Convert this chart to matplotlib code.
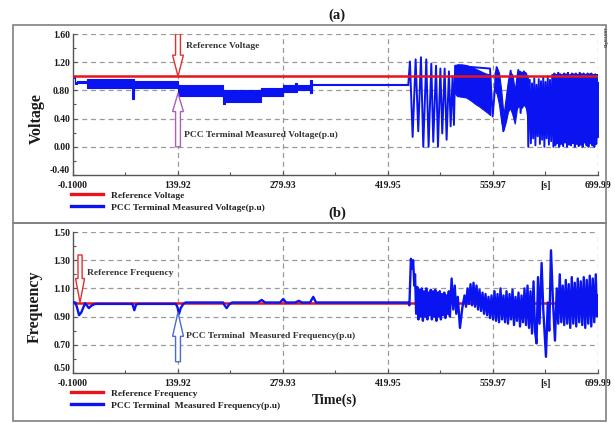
import matplotlib
matplotlib.use("Agg")
import matplotlib.pyplot as plt
import matplotlib.patches as mpatches
from matplotlib.lines import Line2D
import numpy as np

# ---------------- data ----------------
x_ticks = [-0.1, 139.92, 279.93, 419.95, 559.97, 629.98, 699.99]
x_ticklabels = ["-0.1000", "139.92", "279.93", "419.95", "559.97", "[s]", "699.99"]
x_grid = [139.92, 279.93, 419.95, 559.97, 699.99]
x_minor = [69.9, 209.9, 349.9, 489.9]

v_ticks = [-0.40, 0.00, 0.40, 0.80, 1.20, 1.60]
f_ticks = [0.50, 0.70, 0.90, 1.10, 1.30, 1.50]

ref_voltage = 1.0
ref_frequency = 1.0

# voltage: fast-oscillation envelope before the disturbance (step segments)
vb_t = [-0.1, 3, 5, 19, 79, 81, 140, 200, 202, 250, 280, 296, 298, 316, 319, 447]
vb_hi = [1.00, 0.92, 0.93, 0.96, 0.96, 0.94, 0.88, 0.80, 0.80, 0.84, 0.88, 0.90, 0.87, 0.95, 0.886, 0.886]
vb_lo = [0.98, 0.89, 0.90, 0.83, 0.68, 0.84, 0.72, 0.61, 0.64, 0.72, 0.78, 0.78, 0.80, 0.76, 0.872, 0.872]

# voltage: envelope of the thick band segments after the disturbance
vb2_t = [509, 512, 518, 524, 530, 536, 542, 548, 553, 556]
vb2_hi = [1.15, 1.17, 1.17, 1.16, 1.14, 1.11, 1.08, 1.05, 1.03, 1.03]
vb2_lo = [0.76, 0.72, 0.71, 0.70, 0.66, 0.61, 0.57, 0.52, 0.48, 0.45]

vb3_t = [562, 565, 568, 571, 574, 577, 580, 583, 586, 589, 592, 595, 598, 601, 604, 606]
vb3_hi = [1.05, 1.13, 1.05, 0.80, 0.45, 0.70, 0.95, 1.06, 1.02, 0.80, 1.06, 1.08, 1.06, 1.07, 1.05, 0.95]
vb3_lo = [0.80, 0.75, 0.60, 0.35, 0.24, 0.35, 0.50, 0.55, 0.45, 0.33, 0.55, 0.58, 0.55, 0.60, 0.55, 0.40]

vb4_t = [640, 650, 660, 670, 680, 690, 699.99]
vb4_hi = [0.90, 0.92, 0.93, 0.92, 0.94, 0.93, 0.92]
vb4_lo = [0.15, 0.12, 0.14, 0.12, 0.13, 0.12, 0.14]

# voltage: individual swings (peaks / troughs)
vz_t = [447, 449.2, 452.8, 456.8, 460.3, 463.9, 467.0, 471.0, 474.1, 477.7, 480.3,
        484.0, 486.6, 489.8, 492.3, 495.5, 498.1, 501.2, 503.5, 506.1, 507.9, 509.5,
        556.0, 559.5, 564.8, 568.0, 573.7, 578.0, 583.5, 587.0, 589.2, 593.7, 596.8,
        601.2, 604.0, 606.0,
        607.0, 609.0, 610.5, 612.0, 613.5, 615.0, 616.5, 618.0, 619.5, 621.0, 622.5,
        624.0, 625.5, 627.0, 628.5, 630.0, 631.5, 633.0, 634.5, 636.0, 637.5, 639.0,
        640.5, 641.8, 643.1, 644.4, 645.7, 647.0, 648.3, 649.6, 650.9, 652.2, 653.5,
        654.8, 656.1, 657.4, 658.7, 660.0, 661.3, 662.6, 663.9, 665.2, 666.5, 667.8,
        669.1, 670.4, 671.7, 673.0, 674.3, 675.6, 676.9, 678.2, 679.5, 680.8, 682.1,
        683.4, 684.7, 686.0, 687.3, 688.6, 689.9, 691.2, 692.5, 693.8, 695.1, 696.4,
        697.7, 699.0, 699.99]
vz_v = [0.88, 1.21, 0.14, 1.24, 0.22, 1.27, 0.00, 1.24, 0.00, 1.18, 0.07,
        1.15, 0.00, 1.11, 0.19, 1.11, 0.10, 1.07, 0.29, 1.00, 0.31, 1.15,
        1.11, 0.43, 1.13, 0.85, 0.22, 0.60, 1.08, 0.62, 0.40, 1.09, 0.48,
        1.07, 0.62, 1.00,
        0.00, 0.95, 0.05, 0.90, 0.12, 0.97, 0.02, 0.88, 0.15, 0.96, 0.04,
        0.93, 0.10, 0.98, 0.00, 0.92, 0.12, 1.00, 0.03, 0.95, 0.08, 1.02,
        0.00, 1.04, 0.02, 1.02, 0.05, 1.05, 0.00, 1.03, 0.04, 1.02, 0.01,
        1.04, 0.06, 1.03, 0.00, 1.05, 0.03, 1.02, 0.02, 1.04, 0.05, 1.03,
        0.00, 1.04, 0.04, 1.02, 0.01, 1.05, 0.03, 1.03, 0.00, 1.04, 0.06,
        1.02, 0.02, 1.04, 0.00, 1.03, 0.05, 1.04, 0.02, 1.02, 0.00, 1.03,
        0.04, 1.02, 0.30]

# frequency trace
f_t = [-0.1, 3, 5, 8, 11, 16, 19, 21, 24, 27, 30, 79, 81.7, 84, 87,
       137, 139, 141.3, 143.5, 147, 150, 200, 202, 204.8, 208, 212, 246, 251.5, 256,
       276, 280.3, 284, 296, 301.2, 305, 316, 320.3, 324, 447, 448.5,
       450.5, 452, 453.5, 455, 456, 457.5, 459, 460.5, 462, 463.5, 465, 466.5, 468,
       469.5, 471, 472.5, 474, 475.5, 477, 478.5, 480, 481.5, 483, 484.5, 486, 487.5,
       489, 490.5, 492, 493.5, 495, 496.5, 498, 499.5, 501, 502.5, 504.8, 507, 509,
       511, 513, 515.9, 519, 522, 524, 526, 528, 530, 532, 534, 536, 538, 540, 542,
       544, 546, 548, 550, 552, 554, 556, 558, 560, 562, 564, 566, 568, 570, 572,
       574, 576, 578, 580, 582, 584, 586, 588, 590, 592, 594, 596, 598, 600, 602,
       604, 606, 608, 610, 612, 614, 616, 618, 620, 622, 624.8, 627, 630.6, 633,
       635, 637.3, 640, 642.6, 645, 647, 649, 651, 653, 655, 657, 659, 661, 663,
       665, 667, 669, 671, 673, 675, 677, 679, 681, 683, 685, 687, 689, 691, 693,
       695, 697, 698.5, 699.99]
f_v = [1.0, 1.0, 0.97, 0.91, 0.93, 0.995, 0.975, 0.96, 0.975, 0.985, 0.99, 0.99, 0.945, 0.985, 0.99,
       0.99, 0.97, 0.92, 0.96, 0.99, 1.0, 1.0, 0.98, 0.96, 0.985, 1.0, 1.0, 1.018, 1.0,
       1.0, 1.025, 1.0, 1.0, 1.012, 1.0, 1.0, 1.04, 1.0, 1.0, 0.98,
       1.31, 1.24, 1.30, 1.12, 1.20, 0.92, 1.11, 0.88, 1.09, 0.90, 1.10, 0.87, 1.08,
       0.90, 1.10, 0.88, 1.07, 0.91, 1.09, 0.88, 1.08, 0.90, 1.09, 0.87, 1.07, 0.90,
       1.08, 0.88, 1.06, 0.91, 1.07, 0.89, 1.05, 0.92, 1.08, 0.90, 1.17, 0.95, 1.12,
       0.92, 1.04, 0.82, 0.96, 1.05, 0.97, 1.10, 0.99, 1.13, 0.98, 1.14, 0.97, 1.12, 0.95, 1.09,
       0.94, 1.07, 0.92, 1.06, 0.91, 1.04, 0.89, 1.05, 0.88, 1.08, 0.87, 1.06, 0.86, 1.10, 0.88,
       1.05, 0.86, 1.08, 0.85, 1.06, 0.88, 1.09, 0.84, 1.04, 0.87, 1.07, 0.83, 1.05, 0.86, 1.10,
       0.84, 1.12, 0.82, 1.08, 0.78, 1.15, 0.80, 0.71, 1.18, 0.85, 1.28, 0.95, 0.615, 1.00,
       0.80, 1.37, 1.00, 0.73, 1.10, 0.85, 1.20, 0.86, 1.12, 0.84, 1.16, 0.85, 1.13, 0.82,
       1.18, 0.85, 1.14, 0.83, 1.17, 0.86, 1.15, 0.84, 1.18, 0.82, 1.16, 0.85, 1.19, 0.83, 1.17,
       0.86, 1.20, 0.90, 1.05]

# ---------------- style ----------------
SERIF = ["Liberation Serif", "DejaVu Serif"]
plt.rcParams["font.family"] = SERIF
plt.rcParams["font.weight"] = "bold"

BLUE = "#0a14f0"
RED = "#e8141c"
GRID = "#9a9a9a"
SPINE = "#555555"
TXT = "#1a1a1a"

fig = plt.figure(figsize=(6.15, 4.23), dpi=100)
W, H = 615.0, 423.0


def fx(px):
    return px / W


def fy(py):
    return 1 - py / H


ax1 = fig.add_axes([fx(73), fy(175), fx(598) - fx(73), fy(34) - fy(175)])
ax2 = fig.add_axes([fx(73), fy(373), fx(598) - fx(73), fy(232) - fy(373)])


def style_axes(ax, yticks, ylim, fmt):
    ax.set_xlim(-0.1, 699.99)
    ax.set_ylim(*ylim)
    for g in x_grid:
        ax.axvline(g, color=GRID, lw=0.9, ls=(0, (4, 3)), zorder=0.5)
    for g in yticks[1:]:
        ax.axhline(g, color=GRID, lw=0.9, ls=(0, (4, 3)), zorder=0.5)
    ax.set_xticks(x_ticks)
    ax.set_xticklabels(x_ticklabels)
    ax.set_xticks(x_minor, minor=True)
    ax.set_yticks(yticks)
    ax.set_yticklabels([fmt % v for v in yticks])
    ymin = [(yticks[i] + yticks[i + 1]) / 2 for i in range(len(yticks) - 1)]
    ax.set_yticks(ymin, minor=True)
    ax.tick_params(axis="both", which="both", direction="in", colors=SPINE,
                   labelcolor=TXT, labelsize=7, width=0.8)
    ax.tick_params(axis="both", which="major", length=3)
    ax.tick_params(axis="x", which="major", pad=4)
    ax.tick_params(axis="y", which="major", pad=2)
    ax.tick_params(axis="both", which="minor", length=2)
    for lab in ax.get_xticklabels() + ax.get_yticklabels():
        lab.set_fontweight("bold")
    # lowest y label sits just above the corner, clear of the first x label
    ax.get_yticklabels()[0].set_verticalalignment("bottom")
    for s in ["top", "right"]:
        ax.spines[s].set_visible(False)
    for s in ["left", "bottom"]:
        ax.spines[s].set_color(SPINE)
        ax.spines[s].set_linewidth(1.0)


# ---- (a) voltage ----
style_axes(ax1, v_ticks, (-0.40, 1.60), "%.2f")
ax1.fill_between(vb_t, vb_lo, vb_hi, step="post", color=BLUE, lw=0.8, zorder=2)
ax1.fill_between(vb2_t, vb2_lo, vb2_hi, color=BLUE, lw=0.8, zorder=2)
ax1.fill_between(vb3_t, vb3_lo, vb3_hi, color=BLUE, lw=0.8, zorder=2)
ax1.fill_between(vb4_t, vb4_lo, vb4_hi, color=BLUE, lw=0.8, zorder=2)
volt_line, = ax1.plot(vz_t, vz_v, color=BLUE, lw=1.4, zorder=2,
                      label="PCC Terminal Measured Voltage(p.u)")
ref_v_line = ax1.axhline(ref_voltage, color=RED, lw=1.8, zorder=3, label="Reference Voltage")
ref_v_line.set_xdata([-0.1, 699.99])

# hollow arrows
ax1.add_patch(mpatches.FancyArrow(139.92, 1.60, 0, -(1.60 - ref_voltage), width=6.5,
                                  head_width=14.5, head_length=0.30,
                                  length_includes_head=True, facecolor="white",
                                  edgecolor="#e03030", lw=1.0, zorder=4))
ax1.add_patch(mpatches.FancyArrow(139.92, 0.00, 0, 0.76, width=6.5,
                                  head_width=14.5, head_length=0.26,
                                  length_includes_head=True, facecolor="white",
                                  edgecolor="#a860b8", lw=1.0, zorder=4))
ax1.text(fx(186), fy(46), "Reference Voltage", transform=fig.transFigure, fontsize=6.8,
         fontweight="bold", color="#333333", va="center", ha="left")
ax1.text(fx(184), fy(135), "PCC Terminal Measured Voltage(p.u)", transform=fig.transFigure,
         fontsize=6.8, fontweight="bold", color="#333333", va="center", ha="left")

# ---- (b) frequency ----
style_axes(ax2, f_ticks, (0.50, 1.50), "%.2f")
ref_f_line = ax2.axhline(ref_frequency, color=RED, lw=1.8, zorder=2, label="Reference Frequency")
ref_f_line.set_xdata([-0.1, 699.99])
freq_line, = ax2.plot(f_t, f_v, color=BLUE, lw=1.7, zorder=3,
                      label="PCC Terminal  Measured Frequency(p.u)")

ax2.add_patch(mpatches.FancyArrow(9.3, 1.337, 0, -(1.337 - ref_frequency), width=5.5,
                                  head_width=12, head_length=0.17,
                                  length_includes_head=True, facecolor="white",
                                  edgecolor="#e03030", lw=1.0, zorder=4))
ax2.add_patch(mpatches.FancyArrow(139.92, 0.58, 0, 0.35, width=6.5,
                                  head_width=14.5, head_length=0.17,
                                  length_includes_head=True, facecolor="white",
                                  edgecolor="#4a6ad0", lw=1.0, zorder=4))
ax2.text(fx(87), fy(273), "Reference Frequency", transform=fig.transFigure, fontsize=6.8,
         fontweight="bold", color="#333333", va="center", ha="left")
ax2.text(fx(186), fy(336), "PCC Terminal  Measured Frequency(p.u)", transform=fig.transFigure,
         fontsize=6.8, fontweight="bold", color="#333333", va="center", ha="left")

# ---- legends ----
def add_legend(ax, handles, top_px):
    leg = ax.legend(handles=handles, loc="upper left",
                    bbox_to_anchor=(fx(71), fy(top_px)), bbox_transform=fig.transFigure,
                    frameon=False, borderpad=0, borderaxespad=0,
                    handlelength=3.4, handletextpad=0.85, labelspacing=0.35,
                    prop={"family": SERIF, "weight": "bold", "size": 6.8})
    for ln in leg.get_lines():
        ln.set_linewidth(2.4)
    for t in leg.get_texts():
        t.set_color("#222222")
    return leg


add_legend(ax1, [ref_v_line, volt_line], 191)
add_legend(ax2, [ref_f_line, freq_line], 389)

# ---- labels / titles ----
fig.text(fx(37), fy(119), "Voltage", rotation=90, fontsize=11.5, fontweight="bold",
         ha="center", va="center", color=TXT)
fig.text(fx(35), fy(307), "Frequency", rotation=90, fontsize=11.5, fontweight="bold",
         ha="center", va="center", color=TXT)
fig.text(fx(337), fy(15), "(a)", fontsize=10.5, fontweight="bold", ha="center", va="center",
         color=TXT)
fig.text(fx(337), fy(213), "(b)", fontsize=10.5, fontweight="bold", ha="center", va="center",
         color=TXT)
fig.text(fx(335), fy(400), "Time(s)", fontsize=10, fontweight="bold", ha="center",
         va="center", color=TXT)
fig.text(fx(607), fy(37), "DIgSILENT", rotation=90, fontsize=2.5, ha="center", va="center",
         color="#555555", family=["DejaVu Sans"])

# ---- outer boxes ----
for top, bot in [(25, 223), (223, 421)]:
    fig.add_artist(mpatches.Rectangle((fx(13), fy(bot)), fx(606) - fx(13), fy(top) - fy(bot),
                                      transform=fig.transFigure, fill=False,
                                      edgecolor="#808080", lw=1.2))

fig.savefig("out.png", dpi=100, facecolor="white")
